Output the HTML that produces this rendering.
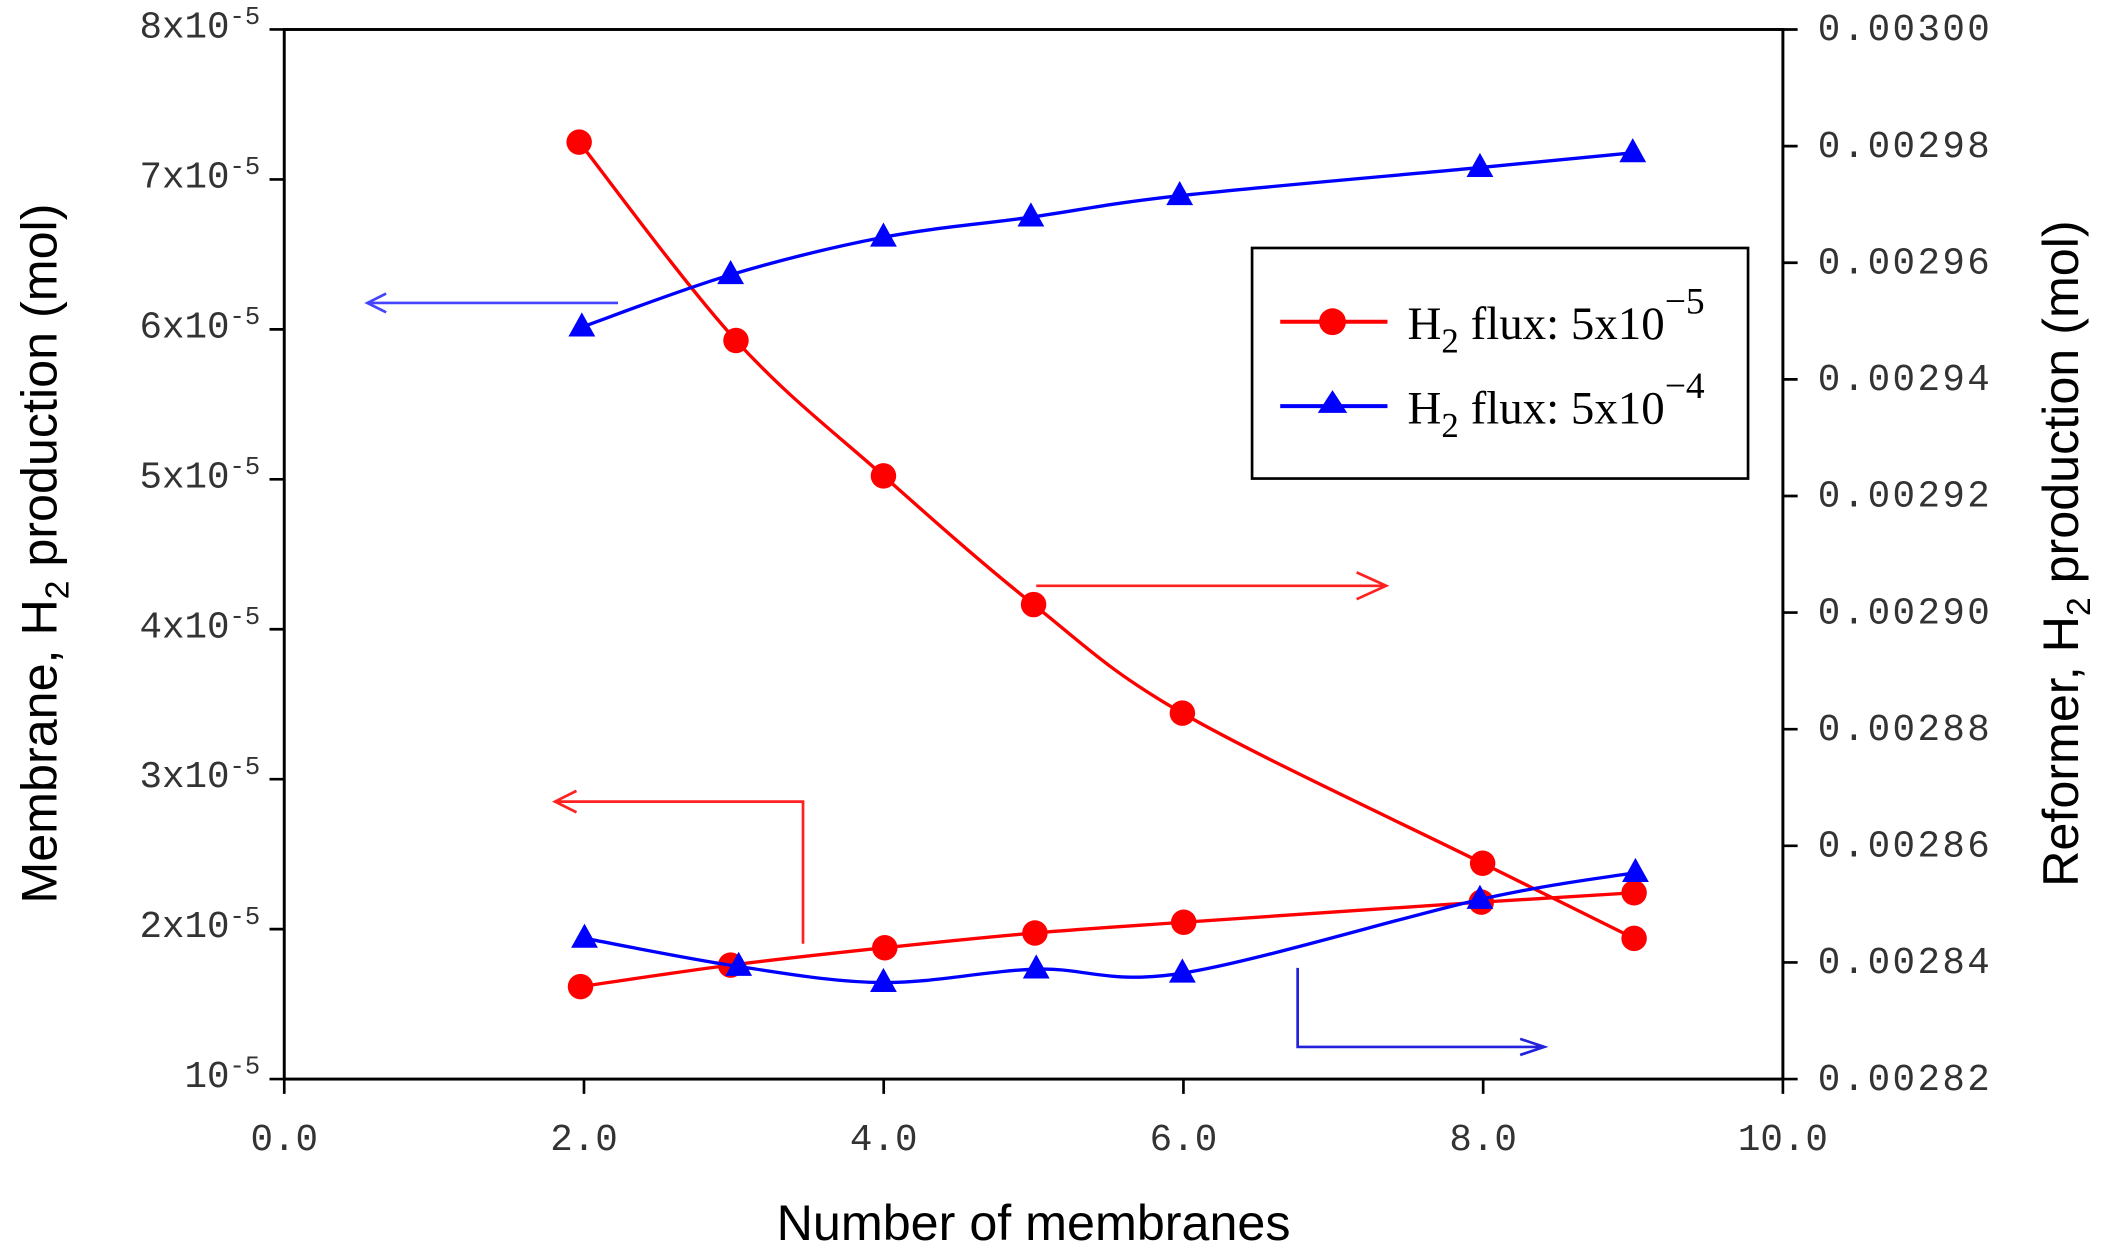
<!DOCTYPE html>
<html><head><meta charset="utf-8"><style>
html,body{margin:0;padding:0;background:#fff;}
svg{display:block;}
.mono{font-family:"Liberation Mono",monospace;font-size:28px;fill:#333;}
.sans{font-family:"Liberation Sans",sans-serif;fill:#000;}
.ser{font-family:"Liberation Serif",serif;fill:#000;}
</style></head><body>
<svg id="s" width="2102" height="1252" viewBox="0 0 1568 934" xmlns="http://www.w3.org/2000/svg">
<rect x="212" y="22" width="1118" height="783" fill="none" stroke="#000" stroke-width="2.2"/>
<g id="ticks" stroke="#000" stroke-width="2"></g>
<g id="labels"></g>
<text class="sans" x="771" y="925" font-size="37.5" text-anchor="middle">Number of membranes</text>
<text class="sans" font-size="37.5" transform="translate(42,413) rotate(-90)" text-anchor="middle">Membrane, H<tspan font-size="25" dy="9">2</tspan><tspan dy="-9"> production (mol)</tspan></text>
<text class="sans" font-size="37.5" transform="translate(1550,413) rotate(-90)" text-anchor="middle">Reformer, H<tspan font-size="25" dy="9">2</tspan><tspan dy="-9"> production (mol)</tspan></text>
<g id="series"></g>
<g fill="none" stroke-width="2">
<path d="M461,226 H274 M288,219 L274,226 L288,233" stroke="#4444ff"/>
<path d="M773,437 H1034 M1012,427 L1034,437 L1012,447" stroke="#ff2020"/>
<path d="M599,704 V598 H414 M430,590 L414,598 L430,606" stroke="#ff2020"/>
<path d="M968,722 V781 H1152 M1134,775 L1152,781 L1134,787" stroke="#2222dd"/>
</g>
<rect x="934" y="185" width="370" height="172" fill="#fff" stroke="#000" stroke-width="2"/>
<line x1="955" y1="240" x2="1035" y2="240" stroke="#f00" stroke-width="3"/>
<circle cx="994" cy="240" r="10" fill="#f00"/>
<line x1="955" y1="303" x2="1035" y2="303" stroke="#00f" stroke-width="3"/>
<polygon points="994,291 1005,308 983,308" fill="#00f"/>
<text class="ser" x="1050" y="253" font-size="35">H<tspan font-size="26" dy="10">2</tspan><tspan dy="-10"> flux: 5x10</tspan><tspan font-size="28" dy="-19">−5</tspan></text>
<text class="ser" x="1050" y="316" font-size="35">H<tspan font-size="26" dy="10">2</tspan><tspan dy="-10"> flux: 5x10</tspan><tspan font-size="28" dy="-19">−4</tspan></text>
</svg>
<script>
const NS="http://www.w3.org/2000/svg";
function el(p,t,a,txt){const e=document.createElementNS(NS,t);for(const k in a)e.setAttribute(k,a[k]);if(txt!=null)e.innerHTML=txt;document.getElementById(p).appendChild(e);return e;}
let t="";
for(let i=0;i<=5;i++){const x=212+i*111.8*2;t+=`M${x},805 v11 `;el("labels","text",{class:"mono",x:x,y:858,"text-anchor":"middle"},(i*2).toFixed(1));}
for(let i=1;i<=8;i++){const y=805-(i-1)*111.86;t+=`M212,${y} h-11 `;
 el("labels","text",{class:"mono",x:194,y:y+6,"text-anchor":"end"}, i==1?'10<tspan font-size="19" dy="-10">-5</tspan>':`${i}x10<tspan font-size="19" dy="-10">-5</tspan>`);}
for(let i=0;i<=9;i++){const y=805-i*87;t+=`M1330,${y} h11 `;el("labels","text",{class:"mono",x:1356,y:y+8,"letter-spacing":"1.8"},(0.00282+i*0.00002).toFixed(5));}
el("ticks","path",{d:t});
function cr(p){let d=`M${p[0][0]},${p[0][1]}`;for(let i=0;i<p.length-1;i++){const p0=p[i-1]||p[i],p1=p[i],p2=p[i+1],p3=p[i+2]||p2;
d+=` C${p1[0]+(p2[0]-p0[0])/6},${p1[1]+(p2[1]-p0[1])/6} ${p2[0]-(p3[0]-p1[0])/6},${p2[1]-(p3[1]-p1[1])/6} ${p2[0]},${p2[1]}`;}return d;}
const S=[
 ["#f00","c",[[432,106],[549,254],[659,355],[771,451],[882,532],[1106,644],[1219,700]]],
 ["#00f","t",[[434,244],[545,205],[659,177],[769,162],[880,146],[1104,125],[1218,114]]],
 ["#f00","c",[[433,736],[545,720],[660,707],[772,696],[883,688],[1105,673],[1219,666]]],
 ["#00f","t",[[436,700],[551,721],[659,733],[773,723],[882,726],[1104,671],[1220,651]]]];
for(const [c,m,p] of S){el("series","path",{d:cr(p),fill:"none",stroke:c,"stroke-width":2.5});
 for(const [x,y] of p){if(m=="c")el("series","circle",{cx:x,cy:y,r:9.5,fill:c});
 else el("series","polygon",{points:`${x},${y-11} ${x+10},${y+7} ${x-10},${y+7}`,fill:c});}}
</script>
</body></html>
